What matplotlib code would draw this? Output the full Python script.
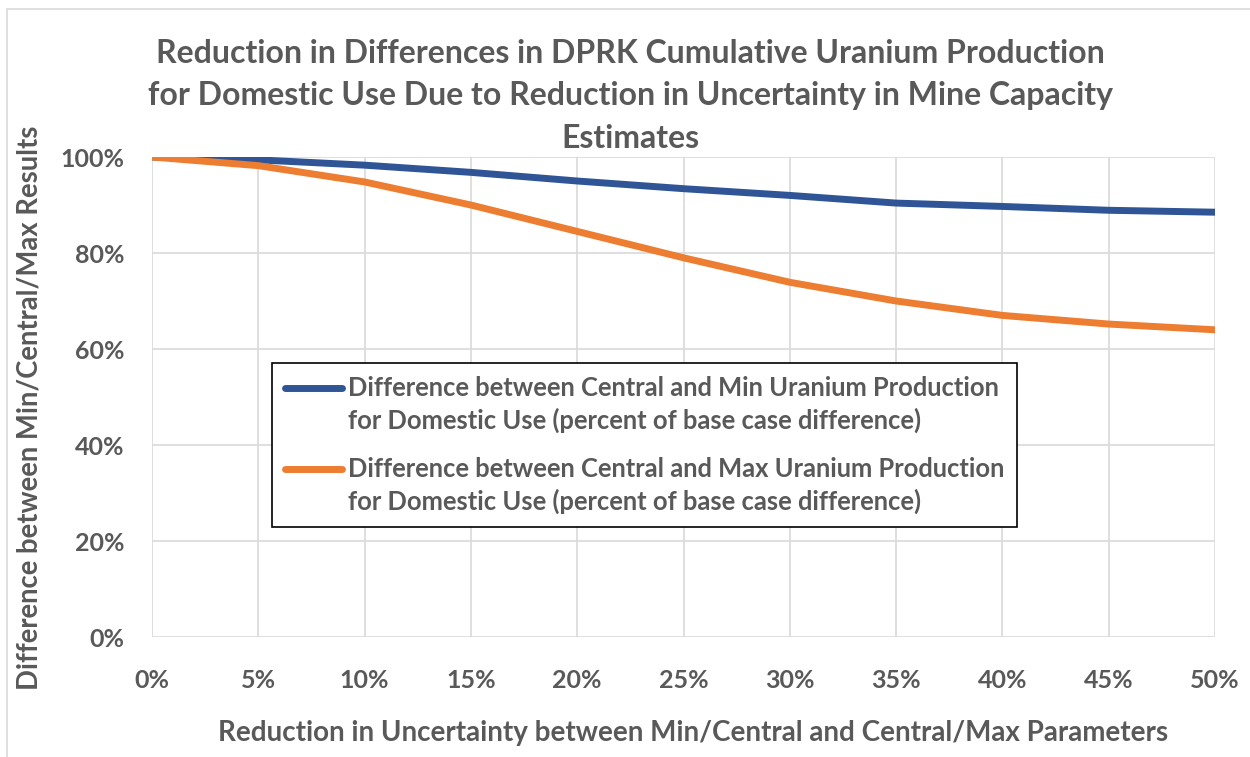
#!/usr/bin/python3
# -*- coding: utf-8 -*-

import matplotlib
matplotlib.use('Agg')
import matplotlib.pyplot as plt
from matplotlib.legend_handler import HandlerLine2D
from matplotlib.patches import Rectangle
from matplotlib.ticker import PercentFormatter

# %%%%%%%%%%%%%%%%%%%%%%%%%%%%%%%%%%%%%%%%%%%%%%%%%%%%%%%%%%%%%%%%%%%%%%%%%%%%%
# Data (percent)
reduction = [0, 5, 10, 15, 20, 25, 30, 35, 40, 45, 50]
diffMin = [100, 99.4, 98.3, 96.8, 95.0, 93.4, 92.0, 90.4, 89.7, 88.9, 88.5]
diffMax = [100, 98.2, 94.8, 90.0, 84.5, 79.0, 73.9, 70.0, 67.0, 65.2, 64.0]

labelMin = 'Difference between Central and Min Uranium Production\nfor Domestic Use (percent of base case difference)'
labelMax = 'Difference between Central and Max Uranium Production\nfor Domestic Use (percent of base case difference)'
title = ('Reduction in Differences in DPRK Cumulative Uranium Production\n'
         'for Domestic Use Due to Reduction in Uncertainty in Mine Capacity\nEstimates')
xlabel = 'Reduction in Uncertainty between Min/Central and Central/Max Parameters'
ylabel = 'Difference between Min/Central/Max Results'
# %%%%%%%%%%%%%%%%%%%%%%%%%%%%%%%%%%%%%%%%%%%%%%%%%%%%%%%%%%%%%%%%%%%%%%%%%%%%%

grey = '#595959'
plt.rcParams['font.family'] = ['Lato', 'DejaVu Sans']
plt.rcParams['font.weight'] = 'bold'


# legend handle drawn level with the first line of a two-line label
class TopLine(HandlerLine2D):
    def create_artists(self, legend, orig_handle, xdescent, ydescent, width, height, fontsize, trans):
        arts = super().create_artists(legend, orig_handle, xdescent, ydescent, width, height, fontsize, trans)
        for a in arts:
            a.set_ydata([y + 0.68 * fontsize for y in a.get_ydata()])
        return arts


fig = plt.figure(figsize=(12.5, 7.57), dpi=100)
ax = fig.add_axes([0.1216, 0.1585, 0.8504, 0.6341])

# light frame of the chart area
fig.patches.append(Rectangle((7 / 1250, -0.1), 1.2, 1.1 - 9 / 757, transform=fig.transFigure,
                             fill=False, edgecolor='#d9d9d9', lw=1.2))

ax.plot(reduction, diffMin, color='#2F5597', lw=5, solid_capstyle='round', label=labelMin)
ax.plot(reduction, diffMax, color='#ED7D31', lw=5, solid_capstyle='round', label=labelMax)

ax.set_xlim(0, 50)
ax.set_ylim(0, 100)
ax.set_xticks(range(0, 51, 5))
ax.set_yticks(range(0, 101, 20))
ax.xaxis.set_major_formatter(PercentFormatter(decimals=0))
ax.yaxis.set_major_formatter(PercentFormatter(decimals=0))
ax.tick_params(length=0, labelsize=18, labelcolor=grey)
ax.tick_params(axis='x', pad=23)
ax.tick_params(axis='y', pad=20)
ax.grid(True, color='#d9d9d9', lw=1.2)
ax.set_axisbelow(True)
for s in ax.spines.values():
    s.set_visible(False)

fig.text(0.504, 1 - 96 / 757, title, ha='center', va='center', fontsize=23, color=grey,
         fontweight='bold', linespacing=1.55)
fig.text(693 / 1250, 1 - 733 / 757, xlabel, ha='center', va='center', fontsize=20,
         color=grey, fontweight='bold')
fig.text(30 / 1250, 1 - 408 / 757, ylabel, ha='center', va='center', rotation=90,
         fontsize=19.8, color=grey, fontweight='bold')

leg = ax.legend(loc='upper left', bbox_to_anchor=(0.113, 0.571), borderaxespad=0,
                handler_map={plt.Line2D: TopLine()}, handlelength=2.23, handletextpad=0.25,
                fontsize=18.4, labelcolor=grey, fancybox=False, framealpha=1,
                edgecolor='black', borderpad=0.5, labelspacing=0.92)
leg.get_frame().set_linewidth(1.2)
for t in leg.get_texts():
    t.set_linespacing(1.38)

fig.savefig('out.png', dpi=100)
